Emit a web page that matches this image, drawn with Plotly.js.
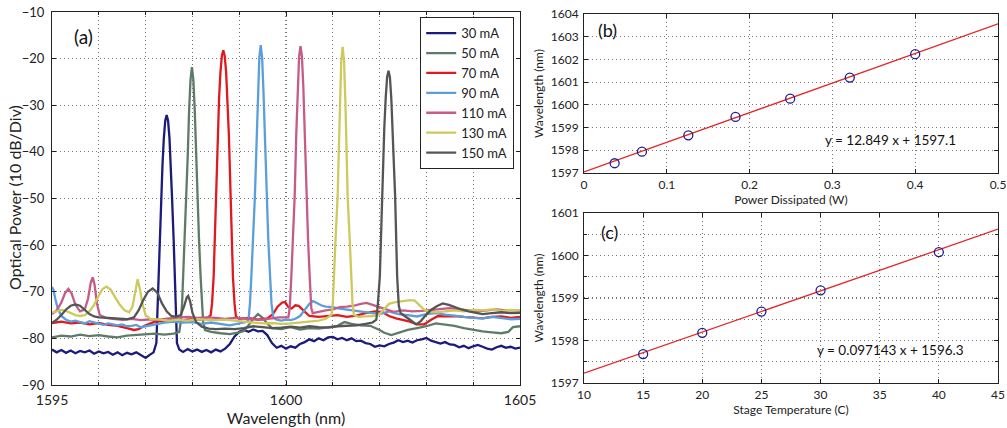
<!DOCTYPE html>
<html>
<head>
<meta charset="utf-8">
<script src="https://cdn.plot.ly/plotly-3.0.1.min.js"></script>
<style>html,body{margin:0;padding:0;background:#fff;}#chart{width:1007px;height:428px;}</style>
</head>
<body>
<div id="chart"></div>
<script>
// ---------- Panel (a): optical spectra ----------
const seriesNames = ["30 mA", "50 mA", "70 mA", "90 mA", "110 mA", "130 mA", "150 mA"];

const wl30 = [1595.0,1595.1,1595.2,1595.3,1595.4,1595.5,1595.6,1595.7,1595.8,1595.9,1596.0,1596.1,1596.2,1596.3,1596.4,1596.5,1596.6,1596.7,1596.8,1596.9,1597.0,1597.08,1597.17,1597.23,1597.25,1597.27,1597.30,1597.336,1597.36,1597.39,1597.42,1597.45,1597.48,1597.51,1597.54,1597.564,1597.60,1597.63,1597.65,1597.67,1597.72,1597.8,1597.9,1598.0,1598.1,1598.2,1598.3,1598.4,1598.5,1598.6,1598.7,1598.8,1598.9,1599.0,1599.1,1599.2,1599.3,1599.4,1599.5,1599.6,1599.7,1599.8,1599.9,1600.0,1600.1,1600.2,1600.3,1600.4,1600.5,1600.6,1600.7,1600.8,1600.9,1601.0,1601.1,1601.2,1601.3,1601.4,1601.5,1601.6,1601.7,1601.8,1601.9,1602.0,1602.1,1602.2,1602.3,1602.4,1602.5,1602.6,1602.7,1602.8,1602.9,1603.0,1603.1,1603.2,1603.3,1603.4,1603.5,1603.6,1603.7,1603.8,1603.9,1604.0,1604.1,1604.2,1604.3,1604.4,1604.5,1604.6,1604.7,1604.8,1604.9,1605.0];
const pw30 = [-82.4,-83.0,-82.5,-83.1,-82.6,-83.2,-82.7,-83.0,-82.6,-83.3,-82.8,-83.2,-82.9,-83.5,-83.0,-83.6,-83.1,-83.4,-83.0,-83.6,-84.2,-83.6,-83.0,-81.0,-75.0,-67.0,-59.0,-49.6,-43.0,-37.0,-33.3,-32.1,-33.3,-37.0,-43.0,-49.6,-59.0,-67.0,-75.0,-81.0,-82.4,-82.9,-82.3,-82.8,-82.4,-82.9,-82.5,-83.0,-82.4,-82.8,-82.2,-81.2,-79.6,-78.6,-78.2,-78.6,-78.1,-78.5,-78.4,-79.3,-81.0,-82.0,-81.6,-82.2,-81.7,-82.0,-81.2,-80.8,-80.2,-80.6,-80.0,-80.4,-79.8,-79.7,-80.2,-79.9,-80.4,-80.0,-80.6,-80.5,-81.0,-81.2,-81.8,-81.5,-81.7,-81.2,-80.9,-80.4,-80.8,-80.5,-80.9,-80.4,-80.2,-79.9,-80.5,-80.8,-81.1,-80.8,-81.3,-81.4,-81.9,-81.6,-82.1,-81.7,-81.4,-81.8,-82.2,-82.4,-81.9,-81.6,-82.0,-81.8,-82.2,-82.0];

const wl50 = [1595.0,1595.2,1595.4,1595.6,1595.8,1596.0,1596.2,1596.4,1596.6,1596.8,1597.0,1597.2,1597.4,1597.6,1597.72,1597.75,1597.78,1597.805,1597.84,1597.876,1597.90,1597.93,1597.96,1597.99,1598.02,1598.05,1598.08,1598.104,1598.14,1598.175,1598.20,1598.23,1598.27,1598.4,1598.6,1598.8,1599.0,1599.1,1599.2,1599.3,1599.4,1599.5,1599.6,1599.7,1599.9,1600.1,1600.3,1600.5,1600.7,1600.9,1601.1,1601.25,1601.4,1601.6,1601.8,1602.0,1602.1,1602.25,1602.4,1602.6,1602.8,1603.0,1603.2,1603.4,1603.6,1603.8,1604.0,1604.2,1604.4,1604.6,1604.75,1604.85,1605.0];
const pw50 = [-79.8,-79.4,-79.6,-79.2,-79.5,-79.3,-79.6,-79.8,-79.4,-79.3,-79.2,-79.0,-79.2,-79.0,-78.6,-76.5,-72.5,-66.7,-58.5,-49.6,-41.0,-31.0,-24.5,-21.8,-24.5,-31.0,-41.0,-49.6,-58.5,-66.7,-72.5,-76.5,-78.2,-78.6,-78.9,-79.1,-78.7,-78.4,-77.2,-75.8,-74.8,-75.6,-76.8,-77.8,-78.0,-77.6,-78.1,-77.8,-77.9,-77.6,-77.3,-76.5,-76.9,-77.2,-77.3,-78.2,-78.8,-79.3,-78.8,-78.2,-77.8,-77.4,-76.8,-77.0,-77.3,-77.8,-78.2,-78.5,-78.7,-78.9,-78.6,-77.6,-77.4];

const wl70 = [1595.0,1595.2,1595.4,1595.6,1595.8,1596.0,1596.2,1596.4,1596.6,1596.75,1596.85,1597.0,1597.2,1597.4,1597.6,1597.8,1598.0,1598.2,1598.3,1598.39,1598.42,1598.454,1598.503,1598.54,1598.57,1598.60,1598.63,1598.66,1598.69,1598.72,1598.75,1598.78,1598.817,1598.866,1598.90,1598.93,1599.0,1599.2,1599.4,1599.6,1599.72,1599.82,1599.92,1599.98,1600.05,1600.12,1600.2,1600.27,1600.37,1600.5,1600.7,1600.9,1601.1,1601.3,1601.5,1601.7,1601.9,1602.05,1602.2,1602.35,1602.5,1602.65,1602.8,1602.95,1603.1,1603.25,1603.4,1603.6,1603.8,1604.0,1604.2,1604.4,1604.6,1604.8,1605.0];
const pw70 = [-76.7,-76.4,-76.8,-76.6,-77.0,-76.7,-77.1,-77.3,-77.8,-78.2,-78.0,-77.2,-76.4,-76.2,-76.0,-76.1,-75.9,-76.0,-75.8,-75.0,-72.5,-66.7,-49.6,-36.5,-28.5,-22.8,-19.4,-18.2,-19.4,-22.8,-28.5,-36.5,-49.6,-66.7,-72.5,-75.3,-75.8,-75.6,-76.0,-75.7,-74.8,-73.2,-72.3,-72.2,-73.3,-73.6,-72.9,-73.0,-74.0,-75.2,-75.4,-75.2,-75.0,-75.4,-75.1,-74.6,-74.2,-74.3,-75.2,-75.7,-76.0,-76.4,-77.0,-77.0,-76.0,-75.2,-75.3,-75.2,-75.4,-75.5,-75.7,-75.4,-75.3,-75.6,-75.4];

const wl90 = [1595.0,1595.03,1595.07,1595.12,1595.2,1595.3,1595.4,1595.5,1595.6,1595.7,1595.8,1595.9,1596.0,1596.1,1596.2,1596.3,1596.4,1596.5,1596.6,1596.7,1596.8,1596.9,1597.0,1597.2,1597.4,1597.6,1597.8,1598.0,1598.2,1598.4,1598.6,1598.8,1599.0,1599.15,1599.20,1599.23,1599.26,1599.30,1599.335,1599.37,1599.40,1599.43,1599.46,1599.49,1599.52,1599.55,1599.585,1599.62,1599.66,1599.69,1599.73,1599.8,1599.9,1600.0,1600.1,1600.2,1600.3,1600.4,1600.5,1600.58,1600.66,1600.75,1600.85,1601.0,1601.15,1601.3,1601.45,1601.6,1601.8,1602.0,1602.2,1602.4,1602.6,1602.8,1603.0,1603.2,1603.4,1603.6,1603.8,1604.0,1604.2,1604.4,1604.6,1604.8,1605.0];
const pw90 = [-69.0,-69.5,-71.5,-73.5,-75.2,-76.0,-76.4,-76.2,-76.5,-76.8,-76.3,-76.6,-76.9,-77.1,-76.8,-77.0,-77.2,-77.0,-77.4,-77.3,-77.1,-77.6,-77.4,-77.0,-76.6,-76.4,-76.6,-76.5,-76.9,-76.6,-76.9,-77.2,-76.8,-76.5,-76.0,-72.5,-66.7,-58.5,-49.6,-38.5,-27.5,-19.8,-17.1,-19.8,-27.5,-38.5,-49.6,-58.5,-66.7,-72.5,-75.6,-76.0,-76.2,-76.0,-76.1,-75.8,-75.2,-74.0,-72.6,-72.0,-72.5,-72.9,-73.2,-73.3,-73.6,-73.8,-74.0,-74.3,-74.6,-74.8,-74.2,-74.8,-75.0,-75.3,-74.8,-74.6,-74.9,-75.2,-75.4,-75.6,-75.7,-75.4,-75.6,-75.9,-75.8];

const wl110 = [1595.0,1595.1,1595.2,1595.28,1595.35,1595.42,1595.5,1595.6,1595.7,1595.77,1595.83,1595.87,1595.91,1595.96,1596.02,1596.15,1596.3,1596.5,1596.7,1596.9,1597.1,1597.3,1597.5,1597.7,1597.9,1598.1,1598.3,1598.5,1598.7,1598.9,1599.1,1599.3,1599.5,1599.7,1599.85,1600.05,1600.08,1600.114,1600.15,1600.185,1600.22,1600.25,1600.28,1600.31,1600.34,1600.37,1600.40,1600.435,1600.47,1600.506,1600.54,1600.57,1600.7,1600.85,1601.0,1601.15,1601.3,1601.45,1601.6,1601.72,1601.85,1602.0,1602.15,1602.3,1602.5,1602.7,1602.9,1603.1,1603.3,1603.5,1603.7,1603.9,1604.1,1604.3,1604.5,1604.7,1604.9,1605.0];
const pw110 = [-74.8,-74.0,-72.3,-70.3,-69.4,-70.4,-72.8,-74.2,-73.8,-71.5,-68.0,-66.9,-68.5,-72.5,-75.0,-75.6,-75.8,-76.0,-75.8,-76.1,-75.9,-76.0,-75.7,-75.6,-75.4,-75.6,-75.5,-75.6,-75.8,-75.6,-75.8,-75.9,-76.0,-75.8,-75.5,-75.5,-73.5,-66.7,-58.5,-49.6,-36.0,-26.0,-19.5,-17.3,-19.5,-26.0,-36.0,-49.6,-58.5,-66.7,-73.5,-74.6,-74.3,-74.0,-73.8,-73.3,-73.2,-73.0,-72.6,-72.4,-72.8,-73.3,-73.8,-74.3,-74.0,-74.2,-74.1,-73.9,-73.6,-73.5,-73.8,-74.0,-74.2,-74.0,-73.8,-74.0,-74.1,-74.0];

const wl130 = [1595.0,1595.1,1595.2,1595.3,1595.4,1595.5,1595.6,1595.7,1595.8,1595.9,1596.0,1596.08,1596.16,1596.25,1596.35,1596.45,1596.55,1596.65,1596.72,1596.78,1596.83,1596.88,1596.93,1597.0,1597.1,1597.3,1597.5,1597.7,1597.9,1598.1,1598.3,1598.5,1598.7,1598.9,1599.1,1599.3,1599.5,1599.7,1599.9,1600.1,1600.3,1600.5,1600.7,1600.85,1600.97,1601.0,1601.02,1601.06,1601.103,1601.13,1601.15,1601.18,1601.21,1601.24,1601.27,1601.29,1601.317,1601.36,1601.40,1601.42,1601.45,1601.55,1601.7,1601.85,1602.0,1602.1,1602.2,1602.35,1602.5,1602.65,1602.75,1602.85,1602.95,1603.05,1603.2,1603.4,1603.6,1603.8,1604.0,1604.2,1604.4,1604.6,1604.8,1605.0];
const pw130 = [-74.5,-74.2,-73.9,-74.1,-74.6,-75.0,-75.2,-75.0,-74.2,-72.8,-70.8,-69.4,-68.9,-69.5,-71.2,-72.8,-74.0,-74.4,-73.2,-70.0,-67.3,-69.5,-72.5,-75.0,-75.8,-76.0,-76.2,-76.0,-76.2,-75.9,-76.0,-76.1,-76.0,-76.2,-76.3,-76.6,-76.8,-76.7,-76.9,-76.8,-76.6,-76.4,-76.2,-75.8,-75.0,-72.5,-66.7,-58.5,-49.6,-38.0,-29.6,-20.5,-17.5,-20.5,-29.6,-38.0,-49.6,-58.5,-66.7,-72.5,-75.0,-75.4,-75.3,-75.2,-74.8,-73.8,-72.6,-72.2,-72.0,-71.8,-71.9,-72.8,-73.8,-74.3,-74.4,-74.2,-74.0,-74.2,-73.9,-74.0,-73.8,-74.1,-73.9,-74.0];

const wl150 = [1595.0,1595.1,1595.2,1595.3,1595.4,1595.5,1595.6,1595.7,1595.8,1595.9,1596.0,1596.2,1596.4,1596.6,1596.75,1596.85,1596.95,1597.05,1597.15,1597.25,1597.35,1597.45,1597.55,1597.65,1597.75,1597.82,1597.88,1597.91,1597.95,1598.0,1598.08,1598.2,1598.35,1598.5,1598.7,1598.9,1599.1,1599.3,1599.5,1599.7,1599.9,1600.1,1600.3,1600.5,1600.7,1600.9,1601.1,1601.3,1601.5,1601.7,1601.85,1601.93,1601.96,1602.005,1602.048,1602.07,1602.10,1602.13,1602.16,1602.19,1602.22,1602.25,1602.28,1602.31,1602.332,1602.375,1602.41,1602.45,1602.55,1602.65,1602.78,1602.88,1603.0,1603.1,1603.22,1603.35,1603.48,1603.6,1603.75,1603.9,1604.05,1604.2,1604.4,1604.6,1604.8,1605.0];
const pw150 = [-76.7,-76.0,-75.0,-73.8,-73.0,-72.7,-73.0,-73.8,-74.8,-75.3,-75.5,-75.6,-75.8,-75.9,-75.5,-74.0,-71.8,-70.0,-69.3,-70.2,-72.5,-74.2,-75.2,-75.4,-75.0,-73.2,-71.2,-70.9,-72.0,-74.5,-76.5,-77.5,-77.9,-78.0,-77.9,-78.0,-77.8,-77.4,-77.6,-77.8,-77.7,-77.5,-77.7,-77.4,-77.6,-77.7,-77.4,-77.3,-77.2,-76.9,-76.6,-76.0,-73.0,-66.7,-49.6,-42.0,-35.0,-28.5,-24.0,-22.6,-24.0,-28.5,-35.0,-43.0,-49.6,-66.7,-73.0,-74.6,-75.4,-76.0,-77.0,-76.3,-74.9,-73.9,-73.1,-72.5,-72.8,-73.3,-73.8,-74.2,-74.5,-74.8,-74.6,-74.4,-74.6,-74.5];

// ---------- Panel (b): wavelength vs dissipated power ----------
const bPower = [0.037, 0.070, 0.126, 0.183, 0.249, 0.321, 0.400];
const bWave  = [1597.43, 1597.94, 1598.66, 1599.47, 1600.27, 1601.20, 1602.23];
const bFitX  = [0, 0.5];
const bFitY  = [1597.05, 1603.57];
const bEquation = "y = 12.849 x + 1597.1";

// ---------- Panel (c): wavelength vs stage temperature ----------
const cTemp = [15, 20, 25, 30, 40];
const cWave = [1597.68, 1598.18, 1598.68, 1599.18, 1600.08];
const cFitX = [10, 45];
const cFitY = [1597.23, 1600.62];
const cEquation = "y = 0.097143 x + 1596.3";

const panelLabels = ["(a)", "(b)", "(c)"];
const aXTicks = [1595, 1600, 1605];

// ---------- styling ----------
const FONT = "Lato, 'Open Sans', sans-serif";
const colors = ["#1b1b7e", "#5e7b69", "#e0191c", "#5a9fdb", "#c75b88", "#cdc95c", "#555555"];
const wls = [wl30, wl50, wl70, wl90, wl110, wl130, wl150];
const pws = [pw30, pw50, pw70, pw90, pw110, pw130, pw150];

const traces = [];
for (let i = 0; i < seriesNames.length; i++) {
  traces.push({
    x: wls[i], y: pws[i], name: seriesNames[i], type: "scatter", mode: "lines",
    line: {color: colors[i], width: 2.3}, xaxis: "x", yaxis: "y", showlegend: true
  });
}
traces.push({x: bFitX, y: bFitY, mode: "lines", line: {color: "#e0282a", width: 1.3}, xaxis: "x2", yaxis: "y2", showlegend: false});
traces.push({x: bPower, y: bWave, mode: "markers", marker: {symbol: "circle-open", size: 9, color: "#1f1f8f", line: {width: 1.3}}, xaxis: "x2", yaxis: "y2", showlegend: false});
traces.push({x: cFitX, y: cFitY, mode: "lines", line: {color: "#e0282a", width: 1.3}, xaxis: "x3", yaxis: "y3", showlegend: false});
traces.push({x: cTemp, y: cWave, mode: "markers", marker: {symbol: "circle-open", size: 9, color: "#1f1f8f", line: {width: 1.3}}, xaxis: "x3", yaxis: "y3", showlegend: false});

const W = 1007, H = 428;
const px = v => v / W;
const py = v => 1 - v / H;

const GRIDC = "#777777";
const GDASH = "1px,3px";
const gridStyle = {showgrid: true, gridcolor: GRIDC, gridwidth: 1.2, griddash: GDASH};
const baseAxis = Object.assign({
  showline: true, linecolor: "#222", linewidth: 1, mirror: "allticks",
  ticks: "inside", ticklen: 4, tickcolor: "#222", zeroline: false,
  fixedrange: true
}, gridStyle);
const minorGrid = (dt, t0) => ({dtick: dt, tick0: t0, showgrid: true, gridcolor: GRIDC, gridwidth: 1.2, griddash: GDASH, ticks: "inside", ticklen: 3, tickcolor: "#222"});

const layout = {
  width: W, height: H,
  margin: {l: 0, r: 0, t: 0, b: 0},
  paper_bgcolor: "#fff", plot_bgcolor: "#fff",
  font: {family: FONT, color: "#222"},
  showlegend: true,
  legend: {
    x: px(514), y: py(17), xanchor: "right", yanchor: "top",
    bgcolor: "#fff", bordercolor: "#222", borderwidth: 1.2,
    font: {size: 13, family: FONT, color: "#222"}, tracegroupgap: 0, itemwidth: 30
  },
  xaxis: Object.assign({}, baseAxis, {
    domain: [px(52), px(520)], anchor: "y", range: [1595, 1605],
    tickvals: aXTicks, ticktext: aXTicks.map(String),
    tickfont: {size: 14}, ticklabelstandoff: 2,
    minor: minorGrid(1, 1595),
    title: {text: "Wavelength (nm)", font: {size: 16}, standoff: 3}
  }),
  yaxis: Object.assign({}, baseAxis, {
    domain: [py(385), py(12)], anchor: "x", range: [-90, -10], dtick: 10,
    tickfont: {size: 13}, ticklabelstandoff: 4
  }),
  xaxis2: Object.assign({}, baseAxis, {
    domain: [px(584), px(998)], anchor: "y2", range: [0, 0.5], dtick: 0.1,
    tickfont: {size: 12}, ticklabelstandoff: 1,
    title: {text: "Power Dissipated (W)", font: {size: 12}, standoff: 2}
  }),
  yaxis2: Object.assign({}, baseAxis, {
    domain: [py(173), py(14)], anchor: "x2", range: [1597, 1604], dtick: 1,
    tickfont: {size: 12}, ticklabelstandoff: 2,
    title: {text: "Wavelength (nm)", font: {size: 12}, standoff: 4}
  }),
  xaxis3: Object.assign({}, baseAxis, {
    domain: [px(584), px(998)], anchor: "y3", range: [10, 45], dtick: 5,
    tickfont: {size: 12}, ticklabelstandoff: 1,
    title: {text: "Stage Temperature (C)", font: {size: 12}, standoff: 2}
  }),
  yaxis3: Object.assign({}, baseAxis, {
    domain: [py(383), py(213)], anchor: "x3", range: [1597, 1601], dtick: 1,
    minor: minorGrid(0.5, 1597),
    tickfont: {size: 12}, ticklabelstandoff: 2,
    title: {text: "Wavelength (nm)", font: {size: 12}, standoff: 4}
  }),
  annotations: [
    {xref: "paper", yref: "paper", x: px(14), y: py(198), xanchor: "center", yanchor: "middle", text: "Optical Power (10 dB/Div)", textangle: -90, showarrow: false, font: {size: 16, family: FONT, color: "#222"}},
    {xref: "x", yref: "y", x: 1595.42, y: -15.2, text: panelLabels[0], showarrow: false, xanchor: "left", font: {size: 19, family: FONT, color: "#111"}},
    {xref: "x2", yref: "y2", x: 0.015, y: 1603.3, text: panelLabels[1], showarrow: false, xanchor: "left", font: {size: 18, family: FONT, color: "#111"}},
    {xref: "x3", yref: "y3", x: 11.3, y: 1600.55, text: panelLabels[2], showarrow: false, xanchor: "left", font: {size: 18, family: FONT, color: "#111"}},
    {xref: "x2", yref: "y2", x: 0.37, y: 1598.45, text: bEquation, showarrow: false, font: {size: 13.5, family: FONT, color: "#111"}},
    {xref: "x3", yref: "y3", x: 35.9, y: 1597.78, text: cEquation, showarrow: false, font: {size: 13.5, family: FONT, color: "#111"}}
  ]
};

Plotly.newPlot("chart", traces, layout, {displayModeBar: false, staticPlot: true});
</script>
</body>
</html>
